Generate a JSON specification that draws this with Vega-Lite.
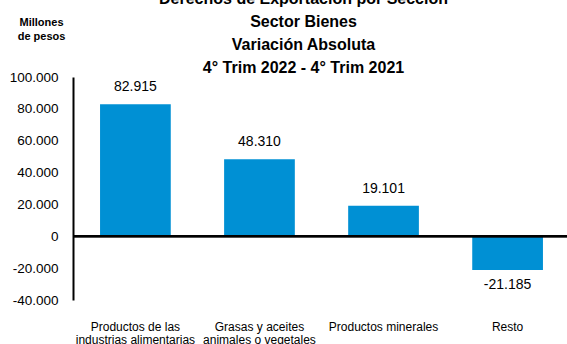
{
  "$schema": "https://vega.github.io/schema/vega-lite/v6.json",
  "autosize": "none",
  "width": 497,
  "height": 223,
  "padding": {"left": 73, "top": 77, "right": -3, "bottom": 44},
  "background": "white",
  "config": {
    "view": {"stroke": null},
    "locale": {"number": {"decimal": ",", "thousands": ".", "grouping": [3], "currency": ["$", ""], "minus": "-"}},
    "font": "Liberation Sans",
    "axis": {"labelOverlap": false, "labelBound": false, "labelFlush": false}
  },
  "title": {
    "text": ["Derechos de Exportación por Sección", "Sector Bienes", "Variación Absoluta", "4° Trim 2022 - 4° Trim 2021"],
    "fontSize": 16,
    "fontWeight": "bold",
    "font": "Liberation Sans",
    "color": "#000000",
    "lineHeight": 23,
    "anchor": "middle",
    "dx": -18,
    "dy": 65,
    "offset": 5
  },
  "data": {
    "values": [
      {"seccion": "Productos de las industrias alimentarias", "valor": 82915},
      {"seccion": "Grasas y aceites animales o vegetales", "valor": 48310},
      {"seccion": "Productos minerales", "valor": 19101},
      {"seccion": "Resto", "valor": -21185}
    ]
  },
  "encoding": {
    "x": {
      "field": "seccion",
      "type": "nominal",
      "sort": null,
      "scale": {"paddingInner": 0.43, "paddingOuter": 0.218},
      "axis": {
        "title": null,
        "orient": "bottom",
        "domain": false,
        "ticks": false,
        "labelAngle": 0,
        "labelFontSize": 12,
        "labelColor": "#000000",
        "labelPadding": 21,
        "labelLineHeight": 13,
        "labelBaseline": "top",
        "labelExpr": "datum.label == 'Productos de las industrias alimentarias' ? ['Productos de las', 'industrias alimentarias'] : datum.label == 'Grasas y aceites animales o vegetales' ? ['Grasas y aceites', 'animales o vegetales'] : datum.label"
      }
    },
    "y": {
      "field": "valor",
      "type": "quantitative",
      "scale": {"domain": [-40000, 100000], "nice": false},
      "axis": {
        "values": [-40000, -20000, 0, 20000, 40000, 60000, 80000, 100000],
        "format": ",.0f",
        "grid": false,
        "ticks": false,
        "domainColor": "#000000",
        "domainWidth": 2,
        "labelFontSize": 13.5,
        "labelColor": "#000000",
        "labelPadding": 15,
        "title": ["Millones", "de pesos"],
        "titleAngle": 0,
        "titleFontSize": 11,
        "titleFontWeight": "bold",
        "titleColor": "#000000",
        "titleAlign": "center",
        "titleBaseline": "alphabetic",
        "titleLineHeight": 14,
        "titleX": -32,
        "titleY": -52
      }
    }
  },
  "layer": [
    {
      "mark": {"type": "bar", "color": "#0090D4"}
    },
    {
      "mark": {"type": "rule", "color": "#000000", "strokeWidth": 2},
      "encoding": {"y": {"datum": 0}, "x": null}
    },
    {
      "transform": [{"filter": "datum.valor >= 0"}],
      "mark": {"type": "text", "baseline": "alphabetic", "dy": -13, "fontSize": 14, "color": "#000000"},
      "encoding": {
        "text": {"field": "valor", "type": "quantitative", "format": ",.0f"}
      }
    },
    {
      "transform": [{"filter": "datum.valor < 0"}],
      "mark": {"type": "text", "baseline": "top", "dy": 8, "fontSize": 14, "color": "#000000"},
      "encoding": {
        "text": {"field": "valor", "type": "quantitative", "format": ",.0f"}
      }
    }
  ]
}
